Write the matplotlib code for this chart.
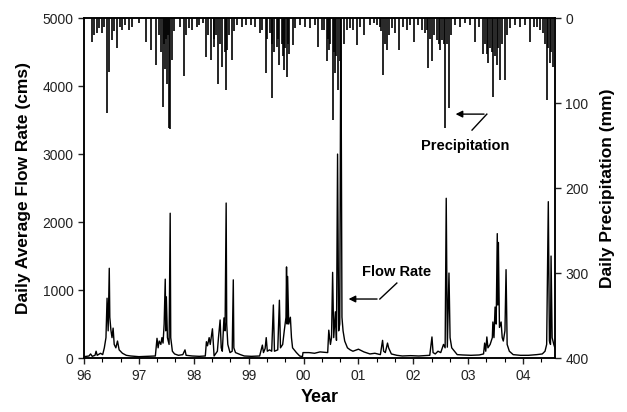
import matplotlib
matplotlib.use("Agg")
import matplotlib.pyplot as plt
from matplotlib.ticker import MultipleLocator
import numpy as np

plt.rcParams['font.family'] = ['Liberation Sans', 'DejaVu Sans']

# daily average flow rate (cms)
flow_t = [1996.00, 1996.05, 1996.09, 1996.12, 1996.15, 1996.20, 1996.22, 1996.24, 1996.30, 1996.34,
          1996.37, 1996.40, 1996.42, 1996.44, 1996.46, 1996.47, 1996.49, 1996.51, 1996.53, 1996.55,
          1996.58, 1996.61, 1996.64, 1996.70, 1996.77, 1996.85, 1997.00, 1997.15, 1997.30, 1997.33,
          1997.35, 1997.37, 1997.40, 1997.42, 1997.44, 1997.46, 1997.48, 1997.49, 1997.50, 1997.52,
          1997.55, 1997.57, 1997.58, 1997.61, 1997.65, 1997.72, 1997.80, 1997.84, 1997.86, 1997.97,
          1998.10, 1998.21, 1998.23, 1998.25, 1998.28, 1998.30, 1998.34, 1998.36, 1998.37, 1998.43,
          1998.45, 1998.48, 1998.50, 1998.52, 1998.55, 1998.57, 1998.59, 1998.60, 1998.62, 1998.66,
          1998.70, 1998.72, 1998.73, 1998.76, 1998.85, 1998.92, 1999.05, 1999.20, 1999.25, 1999.27,
          1999.30, 1999.32, 1999.34, 1999.38, 1999.42, 1999.45, 1999.47, 1999.53, 1999.56, 1999.58,
          1999.62, 1999.65, 1999.68, 1999.69, 1999.70, 1999.71, 1999.73, 1999.76, 1999.78, 1999.80,
          1999.87, 1999.93, 1999.98, 1999.99, 2000.10, 2000.20, 2000.30, 2000.44, 2000.46, 2000.49,
          2000.51, 2000.53, 2000.55, 2000.58, 2000.60, 2000.62, 2000.64, 2000.66, 2000.68, 2000.70,
          2000.72, 2000.75, 2000.80, 2000.85, 2000.90, 2001.00, 2001.10, 2001.21, 2001.30, 2001.40,
          2001.44, 2001.46, 2001.49, 2001.53, 2001.55, 2001.60, 2001.70, 2001.80, 2001.95, 2002.10,
          2002.30, 2002.34, 2002.36, 2002.40, 2002.45, 2002.50, 2002.55, 2002.58, 2002.60, 2002.62,
          2002.65, 2002.67, 2002.70, 2002.75, 2002.80, 2002.90, 2003.05, 2003.20, 2003.28, 2003.30,
          2003.32, 2003.34, 2003.36, 2003.40, 2003.44, 2003.45, 2003.47, 2003.49, 2003.51, 2003.53,
          2003.54, 2003.55, 2003.57, 2003.60, 2003.62, 2003.64, 2003.67, 2003.69, 2003.71, 2003.75,
          2003.82, 2003.95, 2004.10, 2004.25, 2004.35, 2004.40, 2004.43, 2004.46, 2004.48, 2004.50,
          2004.51, 2004.53, 2004.56, 2004.58]
flow_q = [20, 25, 30, 60, 25, 40, 100, 40, 70, 50,
          150, 300, 880, 400, 1320, 600, 410, 300, 440, 200,
          150, 250, 120, 70, 40, 30, 20, 25, 30, 290,
          150, 250, 200, 300, 220, 500, 1160, 400, 900, 300,
          200, 2130, 300, 100, 60, 40, 50, 120, 40, 30,
          25, 30, 240, 180, 300, 200, 430, 150, 30, 100,
          300, 560, 150, 100, 590, 400, 2280, 500, 200, 80,
          100, 1150, 150, 80, 50, 30, 25, 30, 190, 80,
          140, 300, 100, 120, 100, 780, 100, 120, 850, 150,
          200, 410, 600, 1340, 500, 1200, 500, 600, 300, 150,
          80, 30, 20, 80, 80, 70, 90, 80, 410, 200,
          300, 1260, 300, 680, 260, 3000, 400, 500, 5200, 600,
          400, 250, 150, 120, 100, 130, 90, 60, 70, 50,
          260, 100, 80, 220, 150, 60, 40, 30, 35, 30,
          40, 310, 80, 60, 100, 80, 200, 150, 2350, 160,
          1250, 300, 150, 100, 50, 45, 40, 45, 60, 220,
          100, 310, 150, 200, 300, 530, 300, 750, 500, 1830,
          780, 1700, 450, 530, 300, 250, 400, 1300, 200, 100,
          50, 40, 40, 50, 60, 100, 200, 2300, 250, 200,
          1500, 300, 200, 150]

# daily precipitation (mm)
precip_t = [1996.15, 1996.18, 1996.24, 1996.27, 1996.33, 1996.37, 1996.42, 1996.46, 1996.51, 1996.55,
            1996.60, 1996.66, 1996.69, 1996.75, 1996.82, 1996.88, 1997.00, 1997.13, 1997.22, 1997.32,
            1997.37, 1997.41, 1997.44, 1997.46, 1997.48, 1997.50, 1997.52, 1997.53, 1997.55, 1997.56,
            1997.61, 1997.64, 1997.74, 1997.83, 1997.86, 1997.92, 1997.97, 1998.05, 1998.10, 1998.16,
            1998.23, 1998.26, 1998.32, 1998.36, 1998.37, 1998.41, 1998.45, 1998.48, 1998.52, 1998.56,
            1998.58, 1998.61, 1998.65, 1998.70, 1998.74, 1998.79, 1998.87, 1998.96, 1999.05, 1999.12,
            1999.20, 1999.25, 1999.31, 1999.34, 1999.38, 1999.42, 1999.43, 1999.47, 1999.51, 1999.54,
            1999.56, 1999.60, 1999.62, 1999.65, 1999.67, 1999.69, 1999.71, 1999.74, 1999.80, 1999.85,
            1999.93, 2000.02, 2000.11, 2000.20, 2000.26, 2000.33, 2000.38, 2000.42, 2000.44, 2000.47,
            2000.49, 2000.53, 2000.55, 2000.58, 2000.60, 2000.62, 2000.66, 2000.69, 2000.73, 2000.79,
            2000.84, 2000.91, 2000.97, 2001.02, 2001.11, 2001.21, 2001.28, 2001.33, 2001.39, 2001.42,
            2001.44, 2001.48, 2001.52, 2001.55, 2001.61, 2001.66, 2001.74, 2001.81, 2001.88, 2001.94,
            2002.01, 2002.08, 2002.16, 2002.21, 2002.25, 2002.26, 2002.30, 2002.34, 2002.37, 2002.43,
            2002.47, 2002.48, 2002.52, 2002.56, 2002.58, 2002.61, 2002.65, 2002.68, 2002.76, 2002.85,
            2002.94, 2003.03, 2003.12, 2003.20, 2003.27, 2003.31, 2003.34, 2003.36, 2003.40, 2003.43,
            2003.45, 2003.49, 2003.53, 2003.54, 2003.58, 2003.62, 2003.67, 2003.71, 2003.76, 2003.85,
            2003.95, 2004.04, 2004.13, 2004.20, 2004.26, 2004.31, 2004.37, 2004.40, 2004.44, 2004.46,
            2004.49, 2004.51, 2004.55]
precip_mm = [28, 20, 18, 12, 18, 10, 112, 63, 26, 15,
             35, 10, 14, 8, 14, 10, 6, 28, 38, 55,
             20, 40, 104, 30, 60, 25, 77, 20, 129, 130,
             49, 15, 10, 68, 20, 12, 14, 10, 8, 6,
             46, 20, 49, 25, 34, 20, 77, 30, 57, 40,
             85, 38, 20, 49, 15, 8, 10, 8, 8, 10,
             18, 14, 65, 25, 18, 30, 94, 40, 34, 25,
             55, 30, 45, 61, 35, 69, 30, 42, 32, 12,
             8, 10, 12, 8, 34, 14, 14, 51, 25, 38,
             30, 120, 40, 65, 45, 85, 50, 140, 30, 14,
             12, 14, 32, 10, 20, 8, 6, 8, 10, 15,
             67, 30, 38, 20, 12, 18, 38, 10, 14, 8,
             28, 8, 14, 18, 14, 59, 25, 51, 20, 26,
             30, 38, 26, 30, 129, 30, 106, 20, 8, 10,
             6, 8, 28, 10, 42, 30, 42, 53, 35, 40,
             93, 45, 55, 35, 73, 30, 73, 20, 12, 8,
             10, 8, 28, 10, 11, 14, 18, 30, 96, 35,
             53, 40, 58]

year_ticks = list(range(1996, 2005))
year_labels = ['%02d' % (y % 100) for y in year_ticks]

fig = plt.figure(figsize=(6.27, 4.12), dpi=100)
ax = fig.add_axes([0.134, 0.131, 0.751, 0.825])

ax.plot(flow_t, flow_q, color='k', lw=1.0)
ax.set_xlim(1996.0, 2004.58)
ax.set_ylim(0, 5000)
ax.set_xticks(year_ticks)
ax.set_xticklabels(year_labels)
ax.xaxis.set_minor_locator(MultipleLocator(1 / 3))
ax.set_yticks([0, 1000, 2000, 3000, 4000, 5000])

ax2 = ax.twinx()
ax2.vlines(precip_t, 0, precip_mm, color='k', lw=1.2)
ax2.set_ylim(400, 0)
ax2.set_yticks([0, 100, 200, 300, 400])

for a in (ax, ax2):
    for s in a.spines.values():
        s.set_linewidth(1.1)
    a.tick_params(labelsize=10, width=1, length=4, colors='#222222')
ax.tick_params(axis='x', which='minor', length=3, width=0.8)
ax.tick_params(axis='x', pad=4)

ax.set_ylabel('Daily Average Flow Rate (cms)', fontsize=12.5, fontweight='bold', labelpad=8)
ax2.set_ylabel('Daily Precipitation (mm)', fontsize=12.5, fontweight='bold', labelpad=8)
ax.set_xlabel('Year', fontsize=13, fontweight='bold', labelpad=4)

# bent arrows with labels
ax.annotate('', xy=(2000.77, 868), xytext=(2001.39, 868),
            arrowprops=dict(arrowstyle='-|>', color='k', lw=1.0, mutation_scale=10))
ax.plot([2001.39, 2001.70], [868, 1103], color='k', lw=1.0)
ax.text(2001.70, 1265, 'Flow Rate', ha='center', va='center', fontsize=10.5, fontweight='bold')

ax.annotate('', xy=(2002.72, 3588), xytext=(2003.34, 3588),
            arrowprops=dict(arrowstyle='-|>', color='k', lw=1.0, mutation_scale=10))
ax.plot([2003.34, 2003.07], [3588, 3353], color='k', lw=1.0)
ax.text(2002.94, 3118, 'Precipitation', ha='center', va='center', fontsize=10.5, fontweight='bold')

fig.savefig('out.png', dpi=100)
